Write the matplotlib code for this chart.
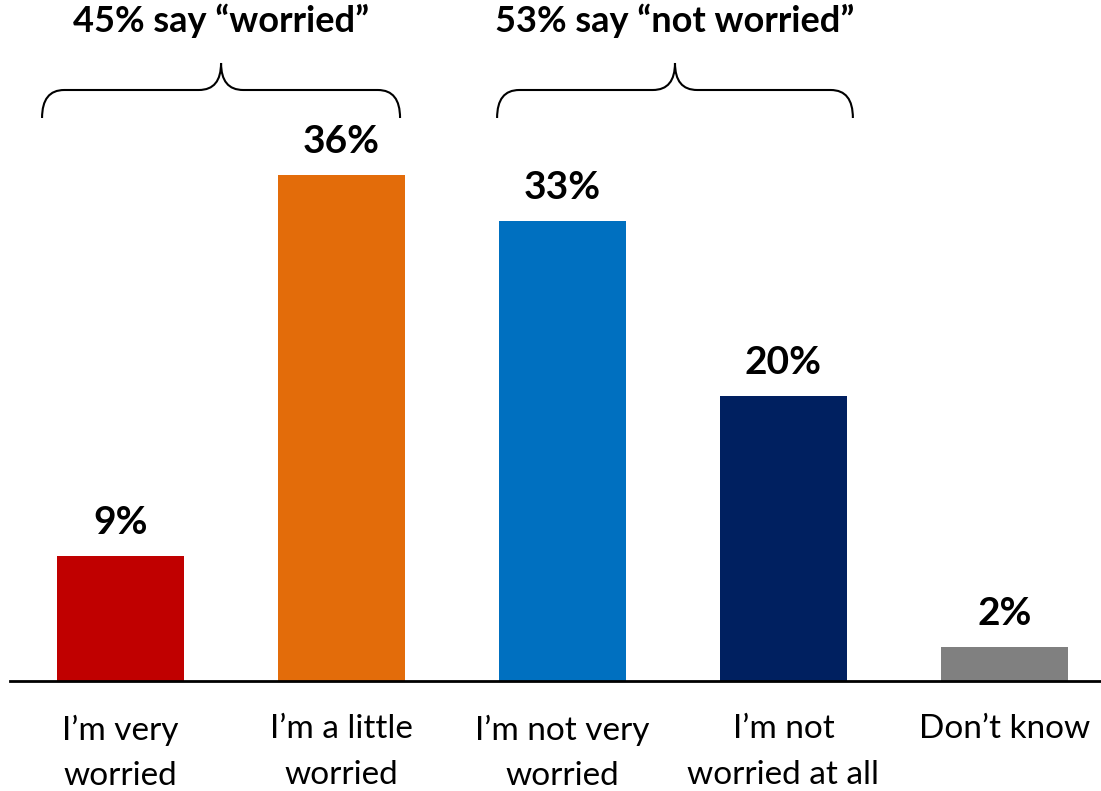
import matplotlib
matplotlib.use("Agg")
import matplotlib.pyplot as plt
from matplotlib.path import Path
from matplotlib.patches import PathPatch

categories = ["I\u2019m very\nworried", "I\u2019m a little\nworried", "I\u2019m not very\nworried",
              "I\u2019m not\nworried at all", "Don\u2019t know"]
values = [8.9, 36.0, 32.7, 20.3, 2.4]
value_labels = ["9%", "36%", "33%", "20%", "2%"]
colors = ["#C00000", "#E36C0A", "#0070C0", "#002060", "#808080"]
group_titles = ["45% say \u201cworried\u201d", "53% say \u201cnot worried\u201d"]

plt.rcParams['font.family'] = ['Lato', 'DejaVu Sans']

W, H = 1101, 791
PX = 14.06  # pixels per percentage point
fig = plt.figure(figsize=(W / 100, H / 100), dpi=100)
ax = fig.add_axes([10 / W, 110 / H, 1 - 10 / W, 632 / H])
x = list(range(len(categories)))
ax.bar(x, values, width=0.575, color=colors)
ax.set_xlim(-0.5, (W - 120.5) / 221)
ax.set_ylim(0, 632 / PX)
for s in ["top", "right", "left"]:
    ax.spines[s].set_visible(False)
ax.spines["bottom"].set_linewidth(2)
ax.set_yticks([])
ax.set_xticks(x)
ax.set_xticklabels(categories, fontsize=24, linespacing=1.64)
ax.tick_params(axis="x", length=0, pad=24)

for xi, v, lab in zip(x, values, value_labels):
    ax.text(xi, v + 22 / PX, lab, ha="center", va="baseline", fontsize=28, fontweight="bold")


def brace(ax, x0, x1, yb, ym, yt, rx=0.1):
    xc = (x0 + x1) / 2
    verts = [(x0, yb), (x0, ym), (x0 + rx, ym),
             (xc - rx, ym),
             (xc, ym), (xc, yt),
             (xc, ym), (xc + rx, ym),
             (x1 - rx, ym),
             (x1, ym), (x1, yb)]
    codes = [Path.MOVETO, Path.CURVE3, Path.CURVE3,
             Path.LINETO,
             Path.CURVE3, Path.CURVE3,
             Path.CURVE3, Path.CURVE3,
             Path.LINETO,
             Path.CURVE3, Path.CURVE3]
    p = PathPatch(Path(verts, codes), fill=False, lw=1.5, color="black", clip_on=False)
    ax.add_patch(p)


brace_spans = [(-0.355, 1.265), (1.704, 3.314)]
for (a, b), t in zip(brace_spans, group_titles):
    brace(ax, a, b, (681 - 118) / PX, (681 - 90) / PX, (681 - 63) / PX)
    ax.text((a + b) / 2, (681 - 32) / PX, t, ha="center", va="baseline", fontsize=26,
            fontweight="bold", clip_on=False)

fig.savefig("out.png", dpi=100)
